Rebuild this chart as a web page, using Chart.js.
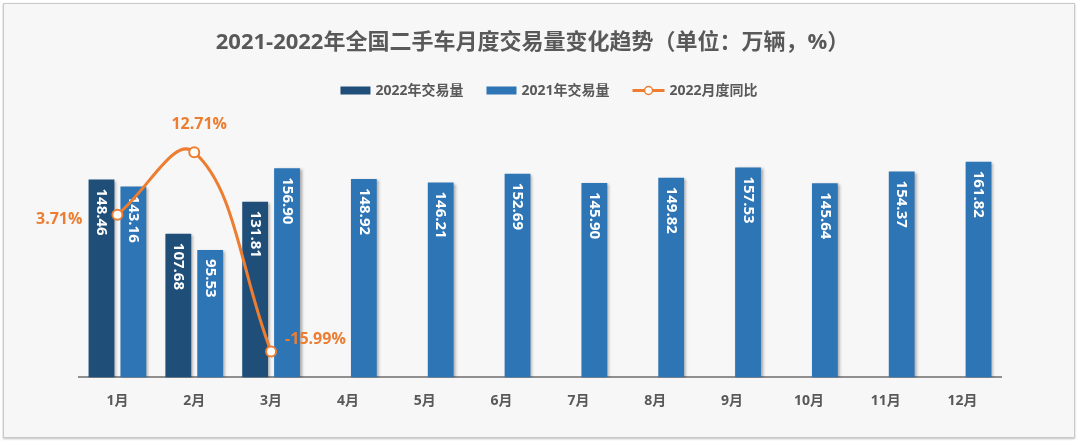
<!DOCTYPE html>
<html>
<head>
<meta charset="utf-8">
<script src="https://cdn.jsdelivr.net/npm/chart.js@4.4.1/dist/chart.umd.min.js"></script>
<style>
    html, body { margin: 0; padding: 0; background: #ffffff; }
    #frame {
        position: absolute; left: 3px; top: 3px;
        width: 1070px; height: 433px;
        border: 1px solid #c9c9c9;
        background: #f7f7f7;
        box-shadow: 0 1px 2px rgba(0, 0, 0, 0.25);
    }
    #chartCanvas { display: block; }
</style>
</head>
<body>
<div id="frame"><canvas id="chartCanvas" width="1070" height="433"></canvas></div>
<script>
const months = ['1月', '2月', '3月', '4月', '5月', '6月', '7月', '8月', '9月', '10月', '11月', '12月'];
const sales2022 = [148.46, 107.68, 131.81, null, null, null, null, null, null, null, null, null];
const sales2021 = [143.16, 95.53, 156.90, 148.92, 146.21, 152.69, 145.90, 149.82, 157.53, 145.64, 154.37, 161.82];
const yoy2022 = [3.71, 12.71, -15.99, null, null, null, null, null, null, null, null, null];
const seriesNames = ['2022年交易量', '2021年交易量', '2022月度同比'];
const titleText = '2021-2022年全国二手车月度交易量变化趋势（单位：万辆，%）';

const FONT = '"Open Sans", "Noto Sans CJK SC", sans-serif';
const COLORS = {
    dark: '#1F4E79',
    light: '#2E75B6',
    orange: '#ED7D31',
    text: '#595959'
};
// where each % label sits relative to its point
const pctLabelPos = [
    { dx: -35, dy: 5, align: 'right' },
    { dx: 5, dy: -28, align: 'center' },
    { dx: 14, dy: -12, align: 'left' }
];

Chart.defaults.font.family = FONT;

const barLabels = {
    id: 'barLabels',
    beforeDatasetDraw(chart, args) {
        if (args.meta.type !== 'bar') return;
        const ctx = chart.ctx;
        ctx.save();
        ctx.shadowColor = 'rgba(0, 0, 0, 0.35)';
        ctx.shadowBlur = 3;
        ctx.shadowOffsetX = 2;
        ctx.shadowOffsetY = 1;
    },
    afterDatasetDraw(chart, args) {
        if (args.meta.type !== 'bar') return;
        const ctx = chart.ctx;
        ctx.restore();
        const values = chart.data.datasets[args.index].data;
        ctx.save();
        ctx.font = 'bold 15px ' + FONT;
        ctx.fillStyle = '#ffffff';
        ctx.textAlign = 'left';
        ctx.textBaseline = 'middle';
        args.meta.data.forEach((bar, i) => {
            if (values[i] == null) return;
            ctx.save();
            ctx.translate(bar.x, bar.y + 9);
            ctx.rotate(Math.PI / 2);
            ctx.fillText(values[i].toFixed(2), 0, 0);
            ctx.restore();
        });
        ctx.restore();
    },
    afterDatasetsDraw(chart) {
        const ctx = chart.ctx;
        const meta = chart.getDatasetMeta(2);
        ctx.save();
        ctx.font = 'bold 16px ' + FONT;
        ctx.fillStyle = COLORS.orange;
        ctx.textBaseline = 'middle';
        meta.data.forEach((pt, i) => {
            if (yoy2022[i] == null) return;
            const pos = pctLabelPos[i];
            ctx.textAlign = pos.align;
            ctx.fillText(yoy2022[i].toFixed(2) + '%', pt.x + pos.dx, pt.y + pos.dy);
        });
        ctx.restore();
    }
};

const legendRow = {
    id: 'legendRow',
    afterDraw(chart) {
        const ctx = chart.ctx;
        const items = [
            { text: seriesNames[0], kind: 'box', color: COLORS.dark },
            { text: seriesNames[1], kind: 'box', color: COLORS.light },
            { text: seriesNames[2], kind: 'line', color: COLORS.orange }
        ];
        ctx.save();
        ctx.font = 'bold 14px ' + FONT;
        const iconW = it => it.kind === 'box' ? 30 : 32;
        const widths = items.map(it => iconW(it) + 5 + ctx.measureText(it.text).width);
        const total = widths.reduce((a, b) => a + b, 0) + 23 * (items.length - 1);
        let x = 545 - total / 2;
        const y = 86.5;
        items.forEach((it, i) => {
            if (it.kind === 'box') {
                ctx.fillStyle = it.color;
                ctx.fillRect(x, y - 4, 30, 8);
            } else {
                ctx.strokeStyle = it.color;
                ctx.lineWidth = 3;
                ctx.beginPath();
                ctx.moveTo(x, y);
                ctx.lineTo(x + 32, y);
                ctx.stroke();
                ctx.beginPath();
                ctx.arc(x + 16, y, 4, 0, Math.PI * 2);
                ctx.fillStyle = '#ffffff';
                ctx.fill();
                ctx.lineWidth = 1.5;
                ctx.stroke();
            }
            ctx.fillStyle = COLORS.text;
            ctx.textAlign = 'left';
            ctx.textBaseline = 'middle';
            ctx.fillText(it.text, x + iconW(it) + 5, y + 1);
            x += widths[i] + 23;
        });
        ctx.restore();
    }
};

const ctx = document.getElementById('chartCanvas').getContext('2d');
const chart = new Chart(ctx, {
    type: 'bar',
    data: {
        labels: months,
        datasets: [
            {
                label: seriesNames[0],
                data: sales2022,
                backgroundColor: COLORS.dark,
                yAxisID: 'y',
                order: 1,
                categoryPercentage: 0.83,
                barPercentage: 0.81
            },
            {
                label: seriesNames[1],
                data: sales2021,
                backgroundColor: COLORS.light,
                yAxisID: 'y',
                order: 1,
                categoryPercentage: 0.83,
                barPercentage: 0.81
            },
            {
                type: 'line',
                label: seriesNames[2],
                data: yoy2022,
                yAxisID: 'y2',
                order: 0,
                borderColor: COLORS.orange,
                borderWidth: 3,
                tension: 0.4,
                pointRadius: 5,
                pointBorderWidth: 2,
                pointBackgroundColor: '#ffffff',
                pointBorderColor: COLORS.orange,
                clip: false
            }
        ]
    },
    options: {
        responsive: false,
        animation: false,
        layout: {
            padding: { left: 60, right: 73, top: 0, bottom: 11.6 }
        },
        plugins: {
            legend: { display: false },
            tooltip: { enabled: false },
            title: {
                display: true,
                text: titleText,
                color: COLORS.text,
                font: { size: 22, weight: 'bold', family: FONT },
                padding: { top: 26, bottom: 54.4 }
            }
        },
        scales: {
            x: {
                grid: { display: false, drawTicks: false },
                border: { display: true, color: '#8f8f8f', width: 2 },
                ticks: {
                    color: COLORS.text,
                    font: { size: 14, weight: 'bold' },
                    padding: 15.6
                }
            },
            y: {
                min: 0,
                max: 200,
                grid: { display: false, drawTicks: false },
                border: { display: false },
                ticks: { display: false },
                afterFit(scale) { scale.width = 15; }
            },
            y2: {
                display: false,
                position: 'right',
                min: -19.7,
                max: 18.66
            }
        }
    },
    plugins: [barLabels, legendRow]
});
</script>
</body>
</html>
